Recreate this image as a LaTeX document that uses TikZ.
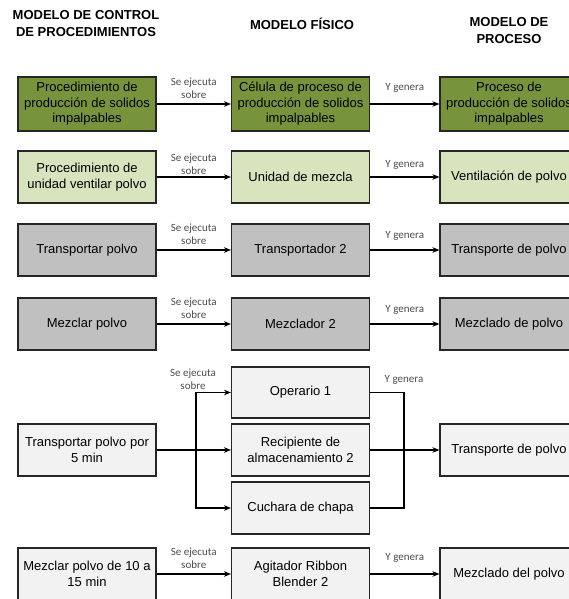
\documentclass[tikz,border=0pt]{standalone}
\usepackage{fontspec}
\setmainfont{Liberation Sans}
\newfontfamily\lblfont{Carlito}
\usepackage{xcolor}
\definecolor{verdeOsc}{HTML}{77933C}
\definecolor{verdeCla}{HTML}{D7E4BD}
\definecolor{grisMed}{HTML}{C0C0C0}
\definecolor{grisCla}{HTML}{F2F2F2}
\usetikzlibrary{arrows.meta}

\begin{document}
\begin{tikzpicture}[
    x=1pt, y=-1pt,
    >={Stealth[length=7pt,width=5.5pt]},
    every node/.style={font=\fontsize{13}{15.5}\selectfont},
    caja/.style={draw=black!85, line width=1.1pt, minimum width=138pt,
                 minimum height=52pt, inner sep=2pt, align=center},
    tit/.style={font=\fontsize{13}{17}\selectfont\bfseries, align=center},
    etq/.style={font=\lblfont\fontsize{11}{13}\selectfont, text=black!70,
                align=center, inner sep=2pt},
    flecha/.style={line width=1.8pt},
  ]
    \useasboundingbox (0,0) rectangle (569,599);
    \clip (0,0) rectangle (569,599);

    % encabezados
    \node[tit] (hCtrl) at (86, 23.5) {MODELO DE CONTROL\\DE PROCEDIMIENTOS};
    \node[tit] (hFis)  at (302, 24)  {MODELO FÍSICO};
    \node[tit] (hProc) at (509, 30.5) {MODELO DE\\PROCESO};

    % fila 1
    \node[caja, fill=verdeOsc, minimum height=54pt] (ctrlA) at (87, 104)
      {Procedimiento de\\producción de solidos\\impalpables};
    \node[caja, fill=verdeOsc, minimum height=54pt] (fisA)  at (300.5, 104)
      {Célula de proceso de\\producción de solidos\\impalpables};
    \node[caja, fill=verdeOsc, minimum height=54pt] (procA) at (509, 104)
      {Proceso de\\producción de solidos\\impalpables};

    % fila 2
    \node[caja, fill=verdeCla] (ctrlB) at (87, 177)
      {Procedimiento de\\unidad ventilar polvo};
    \node[caja, fill=verdeCla] (fisB)  at (300.5, 177) {Unidad de mezcla};
    \node[caja, fill=verdeCla] (procB) at (509, 177) {Ventilación de polvo};

    % fila 3
    \node[caja, fill=grisMed] (ctrlC) at (87, 250)    {Transportar polvo};
    \node[caja, fill=grisMed] (fisC)  at (300.5, 250) {Transportador 2};
    \node[caja, fill=grisMed] (procC) at (509, 250)   {Transporte de polvo};

    % fila 4
    \node[caja, fill=grisMed] (ctrlD) at (87, 324)    {Mezclar polvo};
    \node[caja, fill=grisMed] (fisD)  at (300.5, 324) {Mezclador 2};
    \node[caja, fill=grisMed] (procD) at (509, 324)   {Mezclado de polvo};

    % fila 5
    \node[caja, fill=grisCla] (ctrlE) at (87, 450)
      {Transportar polvo por\\5 min};
    \node[caja, fill=grisCla, minimum height=51pt] (opeE) at (300.5, 392.5)
      {Operario 1};
    \node[caja, fill=grisCla] (recE)  at (300.5, 450)
      {Recipiente de\\almacenamiento 2};
    \node[caja, fill=grisCla] (cucE)  at (300.5, 508) {Cuchara de chapa};
    \node[caja, fill=grisCla] (procE) at (509, 450)   {Transporte de polvo};
    \coordinate (splitE) at (196, 450);
    \coordinate (joinE)  at (404, 450);

    % fila 6
    \node[caja, fill=grisCla] (ctrlF) at (87, 574)
      {Mezclar polvo de 10 a\\15 min};
    \node[caja, fill=grisCla] (fisF)  at (300.5, 574)
      {Agitador Ribbon\\Blender 2};
    \node[caja, fill=grisCla] (procF) at (509, 574)   {Mezclado del polvo};

    % flechas
    \draw[->, flecha] (ctrlA) -- node[etq, above=3pt] {Se ejecuta\\sobre} (fisA);
    \draw[->, flecha] (fisA)  -- node[etq, above=9pt] {Y genera} (procA);
    \draw[->, flecha] (ctrlB) -- node[etq, above=0pt] {Se ejecuta\\sobre} (fisB);
    \draw[->, flecha] (fisB)  -- node[etq, above=5pt] {Y genera} (procB);
    \draw[->, flecha] (ctrlC) -- node[etq, above=3pt] {Se ejecuta\\sobre} (fisC);
    \draw[->, flecha] (fisC)  -- node[etq, above=7pt] {Y genera} (procC);
    \draw[->, flecha] (ctrlD) -- node[etq, above=3pt] {Se ejecuta\\sobre} (fisD);
    \draw[->, flecha] (fisD)  -- node[etq, above=7pt] {Y genera} (procD);

    \draw[->, flecha] (ctrlE) -- (recE);
    \draw[->, flecha] (splitE) |- node[etq, above=0pt, pos=0.5, xshift=-3pt] {Se ejecuta\\sobre} (opeE);
    \draw[->, flecha] (splitE) |- (cucE);
    \draw[flecha] (opeE) -| node[etq, above=5pt, pos=0.5] {Y genera} (joinE);
    \draw[flecha] (cucE) -| (joinE);
    \draw[->, flecha] (recE) -- (procE);

    \draw[->, flecha] (ctrlF) -- node[etq, above=3pt] {Se ejecuta\\sobre} (fisF);
    \draw[->, flecha] (fisF)  -- node[etq, above=9pt] {Y genera} (procF);
  \end{tikzpicture}
\end{document}
